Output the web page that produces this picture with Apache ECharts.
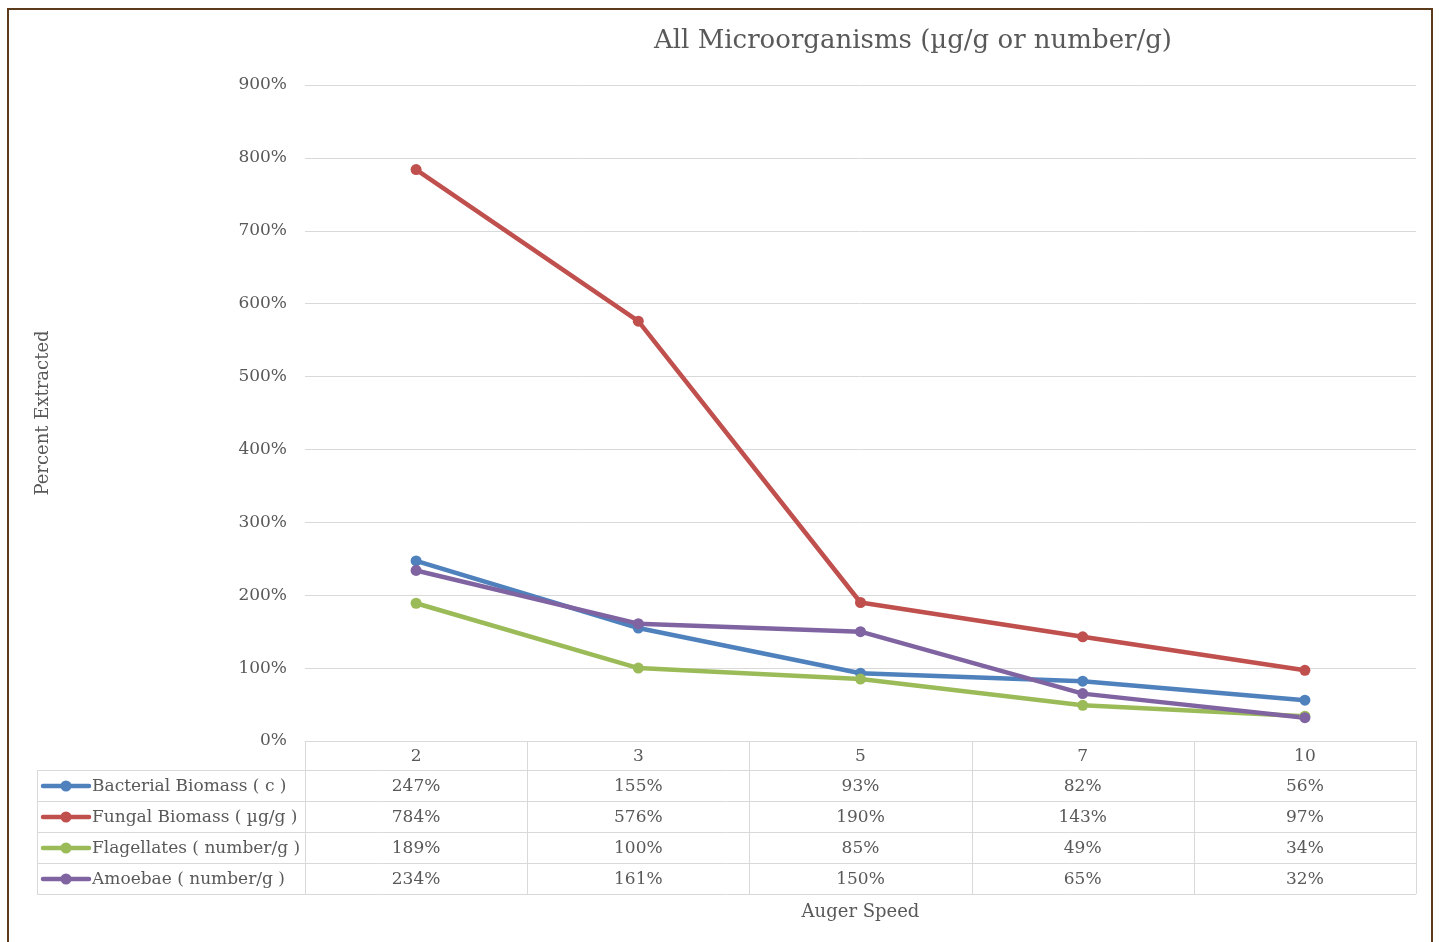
<!DOCTYPE html>
<html>
<head>
<meta charset="utf-8">
<script src="https://cdn.jsdelivr.net/npm/echarts@6/dist/echarts.min.js"></script>
<style>
html,body{margin:0;padding:0;background:#fff;}
#c{width:1439px;height:942px;}
</style>
</head>
<body>
<div id="c"></div>
<script>
const titleText = 'All Microorganisms (µg/g or number/g)';
const categories = ['2', '3', '5', '7', '10'];
const seriesNames = ['Bacterial Biomass ( c )', 'Fungal Biomass ( µg/g )', 'Flagellates ( number/g )', 'Amoebae ( number/g )'];
const bacterial = [247, 155, 93, 82, 56];
const fungal = [784, 576, 190, 143, 97];
const flagellates = [189, 100, 85, 49, 34];
const amoebae = [234, 161, 150, 65, 32];
const colors = ['#4f81bd', '#c0504d', '#9bbb59', '#8064a2'];
const yTicks = [0, 100, 200, 300, 400, 500, 600, 700, 800, 900];

const allData = [bacterial, fungal, flagellates, amoebae];
const FONT = 'DejaVu Serif';
const TXT = '#595959';
const GRIDC = '#d9d9d9';

const chart = echarts.init(document.getElementById('c'));
const option = {
  animation: false,
  color: colors,
  title: {
    text: titleText, left: 649, top: 23,
    textStyle: { fontFamily: FONT, fontSize: 26, fontWeight: 'normal', color: TXT }
  },
  grid: { left: 305, right: 23, top: 85, bottom: 201 },
  xAxis: {
    type: 'category', data: categories, boundaryGap: true,
    axisLine: { show: true, lineStyle: { color: GRIDC } },
    axisTick: { show: false },
    axisLabel: { fontFamily: FONT, fontSize: 17, color: TXT, margin: 7 },
    name: 'Auger Speed', nameLocation: 'middle', nameGap: 162,
    nameTextStyle: { fontFamily: FONT, fontSize: 18, color: TXT }
  },
  yAxis: {
    type: 'value', min: yTicks[0], max: yTicks[yTicks.length - 1], interval: yTicks[1] - yTicks[0],
    axisLine: { show: false }, axisTick: { show: false },
    axisLabel: { fontFamily: FONT, fontSize: 17, color: TXT, margin: 18, formatter: v => v + '%' },
    splitLine: { lineStyle: { color: GRIDC, width: 1 } },
    name: 'Percent Extracted', nameLocation: 'middle', nameGap: 253, nameRotate: 90,
    nameTextStyle: { fontFamily: FONT, fontSize: 18, color: TXT }
  },
  series: seriesNames.map((n, i) => ({
    name: n, type: 'line', data: allData[i],
    symbol: 'circle', symbolSize: 11,
    lineStyle: { width: 4.5, color: colors[i] },
    itemStyle: { color: colors[i] }
  }))
};
chart.setOption(option);

// data table built from the axis scale
const x0 = chart.convertToPixel({ xAxisIndex: 0 }, categories[0]);
const x1 = chart.convertToPixel({ xAxisIndex: 0 }, categories[1]);
const colW = x1 - x0;
const gridLeft = x0 - colW / 2;
const gridRight = gridLeft + colW * categories.length;
const yZero = chart.convertToPixel({ yAxisIndex: 0 }, 0);

const headerH = 29, rowH = 31, tableLeft = 37;
const g = [];
const ls = { stroke: GRIDC, lineWidth: 1 };
for (let r = 0; r <= seriesNames.length; r++) {
  const y = Math.round(yZero + headerH + r * rowH) + 0.5;
  g.push({ type: 'line', shape: { x1: tableLeft, y1: y, x2: gridRight, y2: y }, style: ls, silent: true });
}
for (let c = 0; c <= categories.length; c++) {
  const x = Math.round(gridLeft + c * colW) + 0.5;
  g.push({ type: 'line', shape: { x1: x, y1: yZero, x2: x, y2: yZero + headerH + rowH * seriesNames.length }, style: ls, silent: true });
}
g.push({ type: 'line', shape: { x1: tableLeft + 0.5, y1: yZero + headerH, x2: tableLeft + 0.5, y2: yZero + headerH + rowH * seriesNames.length }, style: ls, silent: true });
// legend keys and row labels
seriesNames.forEach((n, r) => {
  const cy = Math.round(yZero + headerH + r * rowH + rowH / 2);
  g.push({ type: 'line', silent: true, shape: { x1: 43, y1: cy, x2: 89, y2: cy }, style: { stroke: colors[r], lineWidth: 4.5, lineCap: 'round' } });
  g.push({ type: 'circle', silent: true, shape: { cx: 66, cy: cy, r: 5.5 }, style: { fill: colors[r] } });
  g.push({ type: 'text', silent: true, x: 92, y: cy + 1, style: { text: n, fontFamily: FONT, fontSize: 17, fill: TXT, align: 'left', verticalAlign: 'middle' } });
});
// values
allData.forEach((arr, r) => {
  arr.forEach((v, c) => {
    g.push({
      type: 'text', silent: true,
      x: chart.convertToPixel({ xAxisIndex: 0 }, categories[c]),
      y: yZero + headerH + r * rowH + rowH / 2 + 1,
      style: { text: v + '%', fontFamily: FONT, fontSize: 17, fill: TXT, align: 'center', verticalAlign: 'middle' }
    });
  });
});
// outer border
g.push({ type: 'rect', shape: { x: 8, y: 9, width: 1424, height: 945 }, style: { fill: 'none', stroke: '#5b3b1c', lineWidth: 2 }, silent: true });
chart.setOption({ graphic: g });
</script>
</body>
</html>
